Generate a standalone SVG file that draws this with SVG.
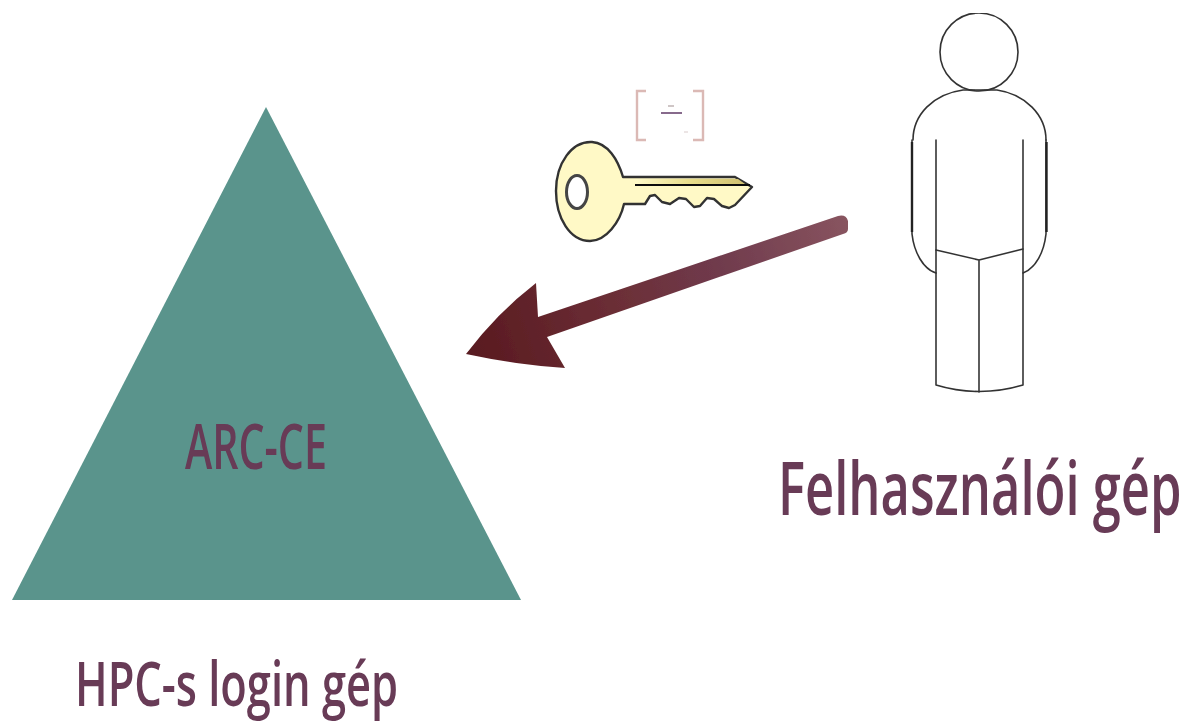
<svg xmlns="http://www.w3.org/2000/svg" width="1187" height="723" viewBox="0 0 1187 723">
<style>
text{font-family:"Open Sans","Noto Sans","Liberation Sans",sans-serif;fill:#673a57;font-weight:600}
.p{fill:none;stroke:#333;stroke-width:1.6;stroke-linecap:round;stroke-linejoin:round}
.b{fill:none;stroke:#dbb9b5;stroke-width:2.4}
</style>
<defs>
<filter id="soft" x="0" y="0" width="1" height="1"><feGaussianBlur stdDeviation="0.6"/></filter>
<linearGradient id="ag" gradientUnits="userSpaceOnUse" x1="470" y1="350" x2="848" y2="225">
<stop offset="0" stop-color="#591a20"/><stop offset=".4" stop-color="#6c2f37"/><stop offset=".65" stop-color="#6f3a4c"/><stop offset="1" stop-color="#88545f"/>
</linearGradient>
<linearGradient id="kg" x1="0" y1="0" x2="1" y2="0">
<stop offset="0" stop-color="#fffac8"/><stop offset=".5" stop-color="#e8dd8a"/><stop offset="1" stop-color="#cfc070"/>
</linearGradient>
</defs>
<rect width="1187" height="723" fill="#fff"/>
<g filter="url(#soft)">
<g id="hpc-node">
<polygon points="266,107 521,600 12,600" fill="#5a948c"/>
<text transform="translate(185 469) scale(.654 1)" font-size="64" textLength="217" lengthAdjust="spacingAndGlyphs">ARC-CE</text>
<text transform="translate(75 706) scale(.74 1)" font-size="62" textLength="436.500" lengthAdjust="spacingAndGlyphs">HPC-s login gép</text>
</g>
<g id="key">
<path class="b" d="M646,91H637V140H646M693,91H703V140H693"/>
<path d="M661,113H682" stroke="#7a5a80" stroke-width="1.800"/>
<path d="M668,106H674" stroke="#cfc6c6" stroke-width="2"/>
<path d="M684,132H688" stroke="#e6dcdc" stroke-width="1.500"/>
<path fill="#fff9c6" stroke="#333" stroke-width="2.400" stroke-linejoin="round" d="M592,142C608,143 618,160 623,177H735L752,187L735,205L729,208L722,206L714,199L707,198L700,206L694,207L686,199L679,198L670,204L662,202L655,195L650,196L645,204H624C620,222 606,241 590,241C570,241 556,218 556,191C556,163 572,141 592,142Z"/>
<ellipse cx="577" cy="192" rx="10.500" ry="16.500" fill="#fff" stroke="#444" stroke-width="3"/>
<polygon points="636,179 738,179 745,184 636,184" fill="url(#kg)"/>
<path d="M635,185H750" stroke="#111" stroke-width="2"/>
</g>
<g id="connectors">
<path fill="url(#ag)" d="M838,216Q846,214 848,221L848,229Q848,233 843,234L547,337L565,368Q517,365 466,354Q497,313 536,283L538,317Z"/>
</g>
<g id="user-node">
<circle class="p" cx="979" cy="52" r="39"/>
<path class="p" d="M963,90H997C1025,94 1046,115 1046,140M963,90C933,94 913,115 913,140"/>
<path class="p" d="M912,140V234C914,252 923,269 936,273M1046,140V234C1044,252 1036,268 1023,273"/>
<path d="M912,142V232M1046.500,142V232" stroke="#222" stroke-width="2.400" fill="none"/>
<path class="p" d="M936,140V385Q979,398 1023,385V140"/>
<path class="p" d="M936,250L979,260L1023,249M979,260V392"/>
<text transform="translate(778 515) scale(.685 1)" font-size="74">Felhasználói gép</text>
</g>
</g>
</svg>
